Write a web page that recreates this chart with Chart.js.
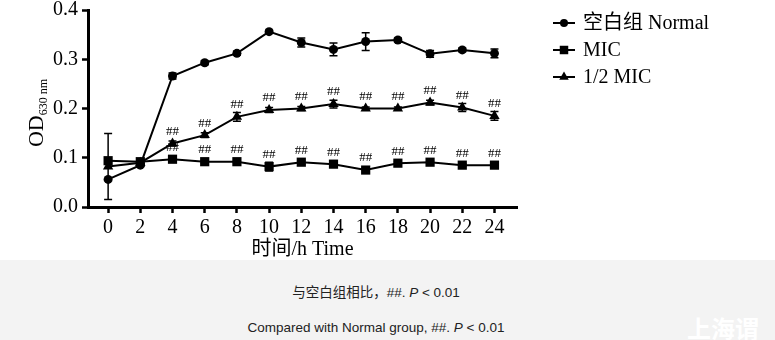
<!DOCTYPE html>
<html>
<head>
<meta charset="utf-8">
<script src="https://cdn.jsdelivr.net/npm/chart.js@4.4.0/dist/chart.umd.min.js"></script>
<style>
    body { margin: 0; width: 775px; height: 340px; overflow: hidden; background: #fff; }
    #top { position: relative; width: 775px; height: 260px; }
    #band { position: relative; width: 775px; height: 80px; background: #f3f3f3; overflow: hidden;
            font-family: Arial, 'Liberation Sans', 'Noto Sans CJK SC', sans-serif; font-size: 13.5px; color: #222; }
    .cap { position: absolute; left: 0; width: 752px; text-align: center; line-height: 16px; }
    .mark { position: absolute; left: 687px; top: 50px; font-family: 'Noto Sans CJK SC', sans-serif;
            font-size: 24px; font-weight: bold; color: #fff; white-space: nowrap; }
</style>
</head>
<body>
<div id="top"><canvas id="odChart" width="775" height="260"></canvas></div>
<div id="band">
    <div class="cap" style="top:25px">与空白组相比，##. <i>P</i> &lt; 0.01</div>
    <div class="cap" style="top:60px">Compared with Normal group, ##. <i>P</i> &lt; 0.01</div>
    <div class="mark">上海谓</div>
</div>
<script>
// Growth curve, OD630 over time
const hours = [0, 2, 4, 6, 8, 10, 12, 14, 16, 18, 20, 22, 24];
const xTicks = [0, 2, 4, 6, 8, 10, 12, 14, 16, 18, 20, 22, 24];
const yTicks = [0, 0.1, 0.2, 0.3, 0.4];
const seriesNames = ['空白组 Normal', 'MIC', '1/2 MIC'];

const normal = [0.056, 0.085, 0.266, 0.293, 0.312, 0.356, 0.334, 0.320, 0.336, 0.339, 0.311, 0.319, 0.312];
const normalErr = [0, 0.003, 0.006, 0.004, 0.004, 0.003, 0.009, 0.013, 0.018, 0.004, 0.007, 0.004, 0.009];
const mic = [0.094, 0.092, 0.097, 0.092, 0.092, 0.082, 0.091, 0.087, 0.075, 0.089, 0.091, 0.085, 0.085];
const micErr = [0, 0.003, 0.004, 0.003, 0.003, 0.009, 0.004, 0.003, 0.004, 0.003, 0.003, 0.003, 0.003];
const half = [0.082, 0.090, 0.129, 0.146, 0.183, 0.197, 0.200, 0.209, 0.200, 0.200, 0.212, 0.202, 0.185];
const halfErr = [0.067, 0.003, 0.005, 0.005, 0.009, 0.005, 0.004, 0.008, 0.003, 0.003, 0.005, 0.008, 0.009];
const micSig = ['', '', '##', '##', '##', '##', '##', '##', '##', '##', '##', '##', '##'];
const halfSig = ['', '', '##', '##', '##', '##', '##', '##', '##', '##', '##', '##', '##'];

const serif = "'Liberation Serif', 'Times New Roman', 'Noto Sans CJK SC', serif";

function pts(values) {
    return hours.map((h, i) => ({ x: h, y: values[i] }));
}

const errs = [normalErr, micErr, halfErr];
const sigs = [null, micSig, halfSig];

const errorBars = {
    id: 'errorBars',
    beforeDatasetsDraw(chart) {
        const ctx = chart.ctx;
        const xs = chart.scales.x, ys = chart.scales.y;
        ctx.save();
        ctx.strokeStyle = '#000';
        ctx.lineWidth = 1.5;
        chart.data.datasets.forEach((ds, d) => {
            ds.data.forEach((p, i) => {
                const e = errs[d][i];
                if (!e) return;
                const x = xs.getPixelForValue(p.x);
                const y1 = ys.getPixelForValue(p.y + e);
                const y2 = ys.getPixelForValue(p.y - e);
                ctx.beginPath();
                ctx.moveTo(x, y1); ctx.lineTo(x, y2);
                ctx.moveTo(x - 4, y1); ctx.lineTo(x + 4, y1);
                ctx.moveTo(x - 4, y2); ctx.lineTo(x + 4, y2);
                ctx.stroke();
            });
        });
        ctx.restore();
    },
    afterDatasetsDraw(chart) {
        const ctx = chart.ctx;
        const xs = chart.scales.x, ys = chart.scales.y;
        ctx.save();
        ctx.fillStyle = '#000';
        ctx.font = "13px " + serif;
        ctx.textAlign = 'center';
        ctx.textBaseline = 'middle';
        chart.data.datasets.forEach((ds, d) => {
            if (!sigs[d]) return;
            ds.data.forEach((p, i) => {
                if (!sigs[d][i]) return;
                ctx.fillText(sigs[d][i], xs.getPixelForValue(p.x), ys.getPixelForValue(p.y) - 12);
            });
        });

        // y axis title: OD with subscript
        ctx.translate(35, 113);
        ctx.rotate(-Math.PI / 2);
        ctx.textAlign = 'left';
        ctx.textBaseline = 'alphabetic';
        ctx.font = "22px " + serif;
        const w1 = ctx.measureText('OD').width;
        ctx.font = "12px " + serif;
        const w2 = ctx.measureText('630 nm').width;
        const start = -(w1 + w2) / 2;
        ctx.font = "22px " + serif;
        ctx.fillText('OD', start, 8);
        ctx.font = "12px " + serif;
        ctx.fillText('630 nm', start + w1, 12);
        ctx.restore();

        // legend: line with marker
        ctx.save();
        ctx.font = "20px " + serif;
        ctx.textBaseline = 'middle';
        chart.data.datasets.forEach((ds, d) => {
            const y = 23 + d * 27;
            ctx.strokeStyle = '#000';
            ctx.lineWidth = 2;
            ctx.beginPath();
            ctx.moveTo(553, y); ctx.lineTo(575, y);
            ctx.stroke();
            Chart.helpers.drawPoint(ctx, {
                pointStyle: ds.pointStyle, radius: ds.pointRadius - 0.5, borderWidth: 0, rotation: 0
            }, 564, y);
            ctx.fillStyle = '#000';
            ctx.fillText(ds.label, 583, y + 1);
        });
        ctx.restore();
    }
};

function fixWidth(w) {
    return function(scale) {
        scale.width = w;
        scale.paddingTop = 0;
        scale.paddingBottom = 0;
    };
}

new Chart(document.getElementById('odChart').getContext('2d'), {
    type: 'line',
    data: {
        datasets: [
            { label: seriesNames[0], data: pts(normal), pointStyle: 'circle', pointRadius: 4.5 },
            { label: seriesNames[1], data: pts(mic), pointStyle: 'rect', pointRadius: 6.5 },
            { label: seriesNames[2], data: pts(half), pointStyle: 'triangle', pointRadius: 6 }
        ].map(ds => Object.assign(ds, {
            borderColor: '#000',
            backgroundColor: '#000',
            borderWidth: 2,
            pointBackgroundColor: '#000',
            pointBorderColor: '#000',
            pointBorderWidth: 0,
            pointHoverRadius: ds.pointRadius,
            tension: 0,
            clip: false
        }))
    },
    options: {
        responsive: false,
        animation: false,
        devicePixelRatio: 1,
        layout: { padding: { left: 0, top: 10, right: 258, bottom: 0 } },
        plugins: {
            legend: { display: false },
            tooltip: { enabled: false }
        },
        scales: {
            x: {
                type: 'linear',
                min: -1.25,
                max: 25.4,
                afterBuildTicks: scale => { scale.ticks = xTicks.map(v => ({ value: v })); },
                afterFit: scale => {
                    scale.height = 53;
                    scale.paddingLeft = 0;
                    scale.paddingRight = 0;
                },
                ticks: {
                    color: '#000',
                    padding: 3,
                    maxRotation: 0,
                    autoSkip: false,
                    font: { size: 20, family: serif }
                },
                grid: {
                    drawOnChartArea: false,
                    drawTicks: true,
                    tickLength: 6,
                    tickWidth: 2.5,
                    tickColor: '#000'
                },
                border: { display: true, color: '#000', width: 3 },
                title: {
                    display: true,
                    text: '时间/h Time',
                    color: '#000',
                    padding: 0,
                    font: { size: 20, family: serif, lineHeight: 1 }
                }
            },
            y: {
                min: 0,
                max: 0.4,
                afterBuildTicks: scale => { scale.ticks = yTicks.map(v => ({ value: v })); },
                afterFit: fixWidth(88),
                ticks: {
                    color: '#000',
                    padding: 4,
                    font: { size: 20, family: serif },
                    callback: v => v.toFixed(1)
                },
                grid: {
                    drawOnChartArea: false,
                    drawTicks: true,
                    tickLength: 6,
                    tickWidth: 2.5,
                    tickColor: '#000'
                },
                border: { display: true, color: '#000', width: 3 }
            }
        }
    },
    plugins: [errorBars]
});
</script>
</body>
</html>
